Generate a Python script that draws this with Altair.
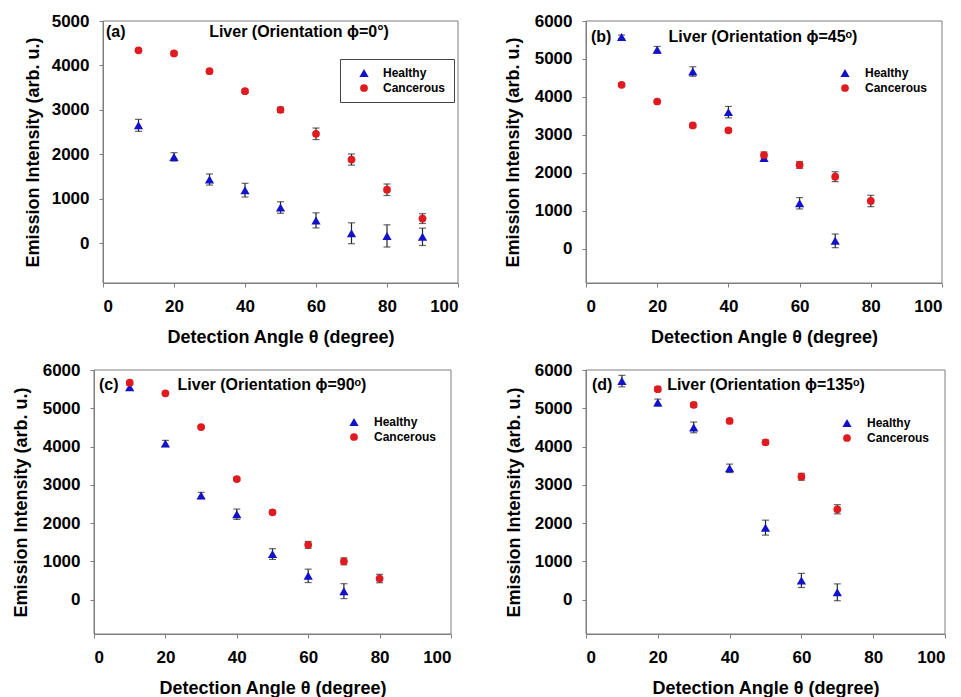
import altair as alt
import pandas as pd

FONT = "Liberation Sans"
BLUE = "#1212c8"
RED = "#e01a1e"
BAR = "#262626"
FRAME = "#7f7f7f"

# ---- (a) orientation phi = 0 ----
a_h_angle = [10, 20, 30, 40, 50, 60, 70, 80, 90]
a_h_val = [2650, 1940, 1430, 1190, 800, 510, 220, 160, 140]
a_h_err = [135, 95, 125, 155, 130, 170, 235, 250, 195]
a_c_angle = [10, 20, 30, 40, 50, 60, 70, 80, 90]
a_c_val = [4340, 4270, 3870, 3420, 3000, 2460, 1880, 1200, 550]
a_c_err = [30, 40, 40, 40, 60, 130, 125, 130, 110]

# ---- (b) orientation phi = 45 ----
b_h_angle = [10, 20, 30, 40, 50, 60, 70]
b_h_val = [5580, 5240, 4670, 3600, 2390, 1200, 210]
b_h_err = [50, 90, 125, 150, 80, 150, 180]
b_c_angle = [10, 20, 30, 40, 50, 60, 70, 80]
b_c_val = [4320, 3880, 3250, 3120, 2470, 2210, 1900, 1260]
b_c_err = [40, 30, 50, 50, 80, 90, 130, 150]

# ---- (c) orientation phi = 90 ----
c_h_angle = [10, 20, 30, 40, 50, 60, 70]
c_h_val = [5550, 4080, 2720, 2230, 1190, 620, 220]
c_h_err = [60, 80, 80, 135, 140, 175, 195]
c_c_angle = [10, 20, 30, 40, 50, 60, 70, 80]
c_c_val = [5670, 5390, 4510, 3150, 2280, 1430, 1000, 550]
c_c_err = [30, 30, 30, 40, 50, 90, 90, 110]

# ---- (d) orientation phi = 135 ----
d_h_angle = [10, 20, 30, 40, 50, 60, 70]
d_h_val = [5710, 5150, 4500, 3430, 1880, 500, 190]
d_h_err = [150, 90, 140, 110, 195, 185, 220]
d_c_angle = [20, 30, 40, 50, 60, 70]
d_c_val = [5500, 5090, 4670, 4110, 3210, 2360]
d_c_err = [60, 60, 40, 60, 90, 120]

TISSUES = ["Healthy", "Cancerous"]
X_TICKS = [0, 20, 40, 60, 80, 100]
Y_MIN = -900


def table(h_angle, h_val, h_err, c_angle, c_val, c_err):
    healthy = pd.DataFrame({"angle": h_angle, "intensity": h_val, "err": h_err,
                            "tissue": "Healthy"})
    cancer = pd.DataFrame({"angle": c_angle, "intensity": c_val, "err": c_err,
                           "tissue": "Cancerous"})
    df = pd.concat([healthy, cancer], ignore_index=True)
    df["lo"] = df["intensity"] - df["err"]
    df["hi"] = df["intensity"] + df["err"]
    return df


def panel(df, ymax, tag, label, width, height, tag_xy, label_xy, legend_opts,
          title_pad, inset=0):
    # `inset` pushes the plotting rectangle right inside its cell
    xs = alt.Scale(domain=[0, 100], nice=False, zero=False, range=[inset, inset + width])
    ys = alt.Scale(domain=[Y_MIN, ymax], nice=False, zero=False)
    x_axis = alt.Axis(values=X_TICKS, format="d", title="Detection Angle θ (degree)",
                      labelPadding=11, titlePadding=14)
    y_axis = alt.Axis(values=list(range(0, ymax + 1, 1000)), format="d",
                      title="Emission Intensity (arb. u.)", offset=-inset,
                      labelPadding=10, titlePadding=title_pad)
    opts = dict(legend_opts)
    opts["legendX"] = opts["legendX"] + inset
    legend = alt.Legend(title=None, orient="none", labelFont=FONT, labelFontSize=12,
                        labelFontWeight="bold", labelColor="black", symbolSize=45,
                        symbolStrokeWidth=0, rowPadding=3, **opts)
    color = alt.Color("tissue:N", scale=alt.Scale(domain=TISSUES, range=[BLUE, RED]),
                      legend=legend)
    shape = alt.Shape("tissue:N",
                      scale=alt.Scale(domain=TISSUES, range=["triangle-up", "circle"]),
                      legend=legend)
    size = alt.Size("tissue:N", scale=alt.Scale(domain=TISSUES, range=[85, 60]),
                    legend=None)
    base = alt.Chart(df)
    points = base.mark_point(filled=True, opacity=1).encode(
        x=alt.X("angle:Q", scale=xs, axis=x_axis),
        y=alt.Y("intensity:Q", scale=ys, axis=y_axis),
        color=color,
        shape=shape,
        size=size,
    )
    whiskers = base.mark_rule(color=BAR, strokeWidth=1.2).encode(
        x="angle:Q", y="lo:Q", y2="hi:Q")
    cap_lo = base.mark_tick(color=BAR, thickness=1.2, size=7, orient="horizontal").encode(
        x="angle:Q", y="lo:Q")
    cap_hi = base.mark_tick(color=BAR, thickness=1.2, size=7, orient="horizontal").encode(
        x="angle:Q", y="hi:Q")
    # box around the full data range
    frame = alt.Chart(pd.DataFrame({"t": [0]})).mark_rect(
        filled=False, stroke=FRAME, strokeWidth=1).encode(
        x=alt.datum(0), x2=alt.datum(100), y=alt.datum(Y_MIN), y2=alt.datum(ymax))
    tag_text = alt.Chart(pd.DataFrame({"t": [tag]})).mark_text(
        font=FONT, fontSize=16, fontWeight="bold", color="black",
        align="left", baseline="middle").encode(
        x=alt.value(inset + tag_xy[0]), y=alt.value(tag_xy[1]), text="t:N")
    label_text = alt.Chart(pd.DataFrame({"t": [label]})).mark_text(
        font=FONT, fontSize=16, fontWeight="bold", color="black",
        align="center", baseline="middle").encode(
        x=alt.value(inset + label_xy[0]), y=alt.value(label_xy[1]), text="t:N")
    layers = [frame, whiskers, cap_lo, cap_hi, points, tag_text, label_text]
    return alt.layer(*layers).properties(width=width + inset, height=height)


def legend_at(x, y, **kw):
    return dict(legendX=x, legendY=y, **kw)


pa = panel(table(a_h_angle, a_h_val, a_h_err, a_c_angle, a_c_val, a_c_err), 5000,
           "(a)", "Liver (Orientation ϕ=0°)", 355, 262, (3, 11), (196, 11),
           legend_at(237, 38, padding=8, symbolOffset=10, labelOffset=13,
                     strokeColor="#444444", fillColor="white"),
           title_pad=9, inset=9)
pb = panel(table(b_h_angle, b_h_val, b_h_err, b_c_angle, b_c_val, b_c_err), 6000,
           "(b)", "Liver (Orientation ϕ=45ᵒ)", 356, 262, (5, 16), (177, 16),
           legend_at(253, 46, padding=0, labelOffset=14),
           title_pad=12)
pc = panel(table(c_h_angle, c_h_val, c_h_err, c_c_angle, c_c_val, c_c_err), 6000,
           "(c)", "Liver (Orientation ϕ=90ᵒ)", 357, 264, (5, 15), (178, 15),
           legend_at(254, 46, padding=0, labelOffset=14),
           title_pad=12)
pd_ = panel(table(d_h_angle, d_h_val, d_h_err, d_c_angle, d_c_val, d_c_err), 6000,
            "(d)", "Liver (Orientation ϕ=135ᵒ)", 359, 264, (6, 15), (180, 15),
            legend_at(255, 47, padding=0, labelOffset=14),
            title_pad=11)

indep = dict(color="independent", shape="independent", size="independent")
row1 = alt.hconcat(pa, pb, spacing=45).resolve_scale(**indep).resolve_legend(**indep)
row2 = alt.hconcat(pc, pd_, spacing=53).resolve_scale(**indep).resolve_legend(**indep)

chart = (
    alt.vconcat(row1, row2, spacing=15)
    .resolve_scale(**indep)
    .resolve_legend(**indep)
    .properties(padding={"left": 12, "top": 12, "right": 0, "bottom": 0},
                background="white")
    .configure_view(strokeWidth=0)
    .configure_axis(grid=False, domainColor=FRAME, tickColor=FRAME, tickSize=4,
                    labelFont=FONT, labelFontSize=17, labelFontWeight="bold",
                    labelColor="black", titleFont=FONT, titleFontSize=18,
                    titleFontWeight="bold", titleColor="black")
)

chart.save("out.html", embed_options={"renderer": "svg", "actions": False})
